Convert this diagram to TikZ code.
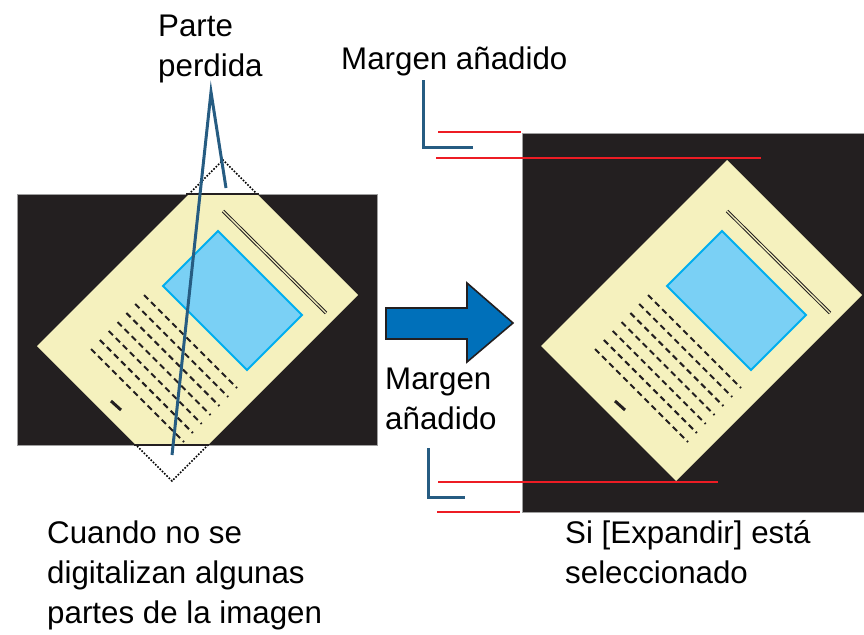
\documentclass[tikz,border=0pt]{standalone}
\usepackage{fontspec}
\setmainfont{Liberation Sans}
\usetikzlibrary{positioning}

\definecolor{fondo}{RGB}{35,31,32}
\definecolor{papel}{RGB}{245,241,190}
\definecolor{fotoRelleno}{RGB}{122,208,245}
\definecolor{fotoBorde}{RGB}{0,174,239}
\definecolor{margen}{RGB}{237,28,36}
\definecolor{guia}{RGB}{38,92,130}
\definecolor{flecha}{RGB}{0,112,186}

\tikzset{
  escaneo/.style={fill=fondo},
  bordeEscaneo/.style={draw=gray!75, line width=1pt},
  hojaFondo/.style={fill=papel},
  foto/.style={fill=fotoRelleno, draw=fotoBorde, line width=1.8pt, line join=miter},
  titulo/.style={draw=fondo, double=papel, double distance=1.3pt, line width=1pt},
  renglon/.style={draw=fondo, line width=2pt, dash pattern=on 6pt off 4pt},
  recorte/.style={draw=black, line width=1.6pt, dash pattern=on 1.6pt off 1.6pt},
  lineaMargen/.style={draw=margen, line width=2pt},
  guiaLinea/.style={draw=guia, line width=3pt},
  flechaGrande/.style={fill=flecha, draw=fondo, line width=1.6pt, line join=miter},
  etiqueta/.style={font={\fontsize{31.3pt}{40pt}\selectfont}, align=left, inner sep=0pt, anchor=base west},
}

% Hoja girada (en coordenadas de la imagen izquierda)
\newcommand{\hojaGirada}{%
  \fill[hojaFondo] (37,346) -- (223,160) -- (358,295) -- (172,481) -- cycle;
  \draw[foto] (218,231) -- (302,315) -- (247,370) -- (163,286) -- cycle;
  \draw[titulo] (223,211) -- (326,313);
  \foreach \i in {0,...,6}
    \draw[renglon] ({144-8.83*\i},{295+9*\i}) -- ++(93,93);
  \draw[fondo, line width=3pt] (111,401) -- (121,410);
}

\begin{document}
\begin{tikzpicture}[x=1pt, y=-1pt]
    \useasboundingbox (0,0) rectangle (864,634);
    % Imagen izquierda: partes perdidas
    \draw[recorte] (37,346) -- (223,160) -- (358,295) -- (172,481) -- cycle;
    \fill[escaneo] (17,194) rectangle (377,445);
    \begin{scope}
      \clip (17,194) rectangle (377,445);
      \hojaGirada
    \end{scope}
    \draw[bordeEscaneo] (17,194) rectangle (377,445);
    \draw[fondo, line width=1.5pt] (186,194) -- (259,194) (134,445) -- (209,445);
    % Parte perdida
    \node[etiqueta] (parte) at (158,77) {Parte\\perdida};
    \coordinate (puntaParte) at (211,92);
    \coordinate (perdidaArriba) at (226,188);
    \coordinate (perdidaAbajo) at (172,455);
    \draw[guiaLinea] (perdidaArriba) -- (puntaParte) -- (perdidaAbajo);
    % Flecha
    \draw[flechaGrande] (386,308) -- (467,308) -- (467,283) -- (513,323)
      -- (467,362) -- (467,339) -- (386,339) -- cycle;
    % Imagen derecha: margen expandido
    \fill[escaneo] (522,133) rectangle (866,512);
    \draw[bordeEscaneo] (866,133) -- (522,133) -- (522,512) -- (866,512);
    \begin{scope}[xshift=504pt]
      \hojaGirada
    \end{scope}
    % Margen
    \draw[lineaMargen] (438,132) -- (521,132);
    \draw[lineaMargen] (436,158) -- (761,158);
    \draw[lineaMargen] (438,482) -- (718,482);
    \draw[lineaMargen] (437,512) -- (520,512);
    \node[etiqueta] (margenSup) at (341,70) {Margen añadido};
    \coordinate (margenSupA) at (423,80);
    \coordinate (margenSupB) at (473,147);
    \draw[guiaLinea] (margenSupA) |- (margenSupB);
    \node[etiqueta] (margenInf) at (385,429) {Margen\\añadido};
    \coordinate (margenInfA) at (428,448);
    \coordinate (margenInfB) at (465,497);
    \draw[guiaLinea] (margenInfA) |- (margenInfB);
    % Textos inferiores
    \node[etiqueta] (textoIzq) at (47,623) {Cuando no se\\digitalizan algunas\\partes de la imagen};
    \node[etiqueta] (textoDer) at (565,583) {Si [Expandir] está\\seleccionado};
\end{tikzpicture}
\end{document}
